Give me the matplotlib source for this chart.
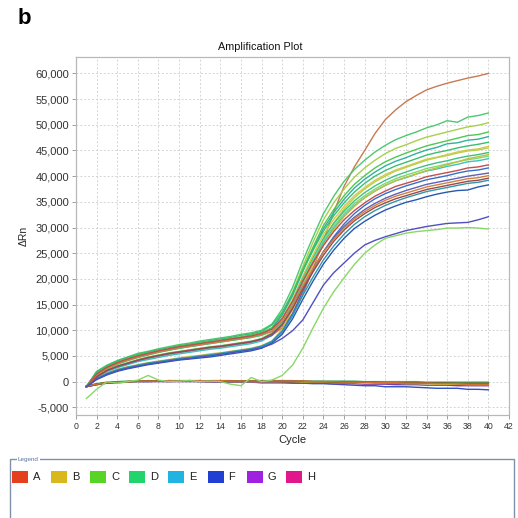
import matplotlib
matplotlib.use("Agg")
import matplotlib.pyplot as plt
import numpy as np
from matplotlib.patches import Rectangle
from matplotlib.ticker import FuncFormatter, MultipleLocator

plt.rcParams['font.family'] = ['Liberation Sans', 'DejaVu Sans']

cycles = list(range(1, 41))

# delta Rn per cycle, in thousands
amp_curves = [
    ('#c87a52', [-1.0, 1.0, 2.2, 3.0, 3.6, 4.2, 4.7, 5.1, 5.5, 5.8, 6.1, 6.4, 6.7, 6.9, 7.2, 7.5, 7.8, 8.3,
                 9.0, 10.5, 13.2, 17.0, 22.0, 27.5, 33.0, 38.0, 41.8, 45.0, 48.3, 51.0, 52.9, 54.5, 55.7, 56.8, 57.5, 58.1, 58.6, 59.1, 59.5, 60.0]),
    ('#4cc870', [-1.0, 2.0, 3.2, 4.1, 4.8, 5.5, 5.9, 6.4, 6.8, 7.2, 7.5, 7.9, 8.2, 8.5, 8.8, 9.2, 9.5, 10.0,
                 11.2, 14.1, 18.3, 23.5, 28.2, 32.7, 36.1, 39.0, 41.3, 43.1, 44.7, 46.0, 47.1, 47.9, 48.6, 49.4, 50.0, 50.8, 50.5, 51.5, 51.8, 52.3]),
    ('#a8d048', [-1.0, 1.2, 2.5, 3.4, 4.1, 4.7, 5.2, 5.7, 6.1, 6.5, 6.8, 7.1, 7.4, 7.7, 8.0, 8.3, 8.6, 9.1,
                 10.4, 13.2, 17.4, 22.4, 27.2, 31.5, 34.8, 37.5, 39.8, 41.6, 43.1, 44.4, 45.4, 46.1, 46.9, 47.6, 48.1, 48.6, 49.1, 49.6, 49.9, 50.4]),
    ('#50c850', [-0.9, 1.7, 2.9, 3.8, 4.5, 5.1, 5.6, 6.0, 6.4, 6.8, 7.1, 7.5, 7.8, 8.1, 8.4, 8.7, 9.1, 9.6,
                 10.5, 13.1, 17.0, 21.9, 26.2, 30.4, 33.5, 36.2, 38.4, 40.1, 41.6, 42.8, 43.7, 44.5, 45.2, 45.9, 46.4, 46.9, 47.4, 47.9, 48.1, 48.6]),
    ('#30b0a0', [-1.0, 1.4, 2.7, 3.5, 4.2, 4.8, 5.3, 5.8, 6.2, 6.5, 6.9, 7.2, 7.5, 7.8, 8.1, 8.4, 8.7, 9.2,
                 10.3, 12.9, 16.7, 21.5, 25.8, 29.8, 32.9, 35.5, 37.7, 39.4, 40.8, 42.0, 42.9, 43.6, 44.4, 45.1, 45.6, 46.3, 46.5, 47.0, 47.2, 47.7]),
    ('#d8c848', [-1.0, 1.0, 2.2, 3.0, 3.6, 4.2, 4.7, 5.1, 5.5, 5.8, 6.1, 6.4, 6.7, 6.9, 7.2, 7.5, 7.8, 8.3,
                 9.6, 12.4, 16.0, 20.6, 24.7, 28.6, 31.6, 34.1, 36.2, 37.8, 39.2, 40.3, 41.2, 41.9, 42.6, 43.3, 43.7, 44.2, 44.7, 45.1, 45.3, 45.8]),
    ('#b8d050', [-1.0, 0.9, 2.0, 2.8, 3.4, 4.0, 4.5, 4.9, 5.3, 5.6, 5.9, 6.2, 6.5, 6.7, 7.0, 7.3, 7.6, 8.1,
                 9.3, 11.5, 14.8, 19.2, 23.6, 27.6, 30.9, 33.6, 35.8, 37.5, 38.9, 40.0, 41.0, 41.7, 42.4, 43.1, 43.6, 44.0, 44.5, 44.9, 45.1, 45.5]),
    ('#40c080', [-1.0, 1.2, 2.5, 3.4, 4.1, 4.7, 5.2, 5.7, 6.1, 6.5, 6.8, 7.1, 7.4, 7.7, 8.0, 8.3, 8.6, 9.0,
                 9.8, 12.0, 15.6, 20.1, 24.1, 27.9, 30.8, 33.2, 35.2, 36.8, 38.1, 39.2, 40.1, 40.8, 41.5, 42.1, 42.6, 43.0, 43.5, 43.9, 44.2, 44.6]),
    ('#80d870', [-1.0, 1.1, 2.3, 3.1, 3.7, 4.3, 4.8, 5.2, 5.6, 5.9, 6.2, 6.5, 6.8, 7.0, 7.3, 7.6, 7.9, 8.4,
                 9.4, 11.8, 15.4, 19.8, 23.7, 27.4, 30.3, 32.7, 34.7, 36.2, 37.5, 38.6, 39.5, 40.2, 40.8, 41.5, 41.9, 42.4, 42.8, 43.2, 43.5, 43.9]),
    ('#40c0c0', [-1.0, 0.8, 2.0, 2.7, 3.3, 3.9, 4.3, 4.7, 5.1, 5.4, 5.7, 6.0, 6.3, 6.5, 6.8, 7.1, 7.4, 7.9,
                 9.0, 11.4, 14.9, 19.3, 23.3, 27.0, 29.9, 32.3, 34.3, 35.8, 37.1, 38.2, 39.1, 39.7, 40.4, 41.0, 41.4, 41.9, 42.3, 42.8, 43.0, 43.4]),
    ('#38c070', [-1.0, 1.9, 3.1, 4.0, 4.7, 5.3, 5.8, 6.2, 6.6, 7.0, 7.3, 7.7, 8.0, 8.3, 8.6, 9.0, 9.3, 9.8,
                 11.0, 13.5, 17.2, 21.6, 25.6, 29.3, 32.3, 34.8, 36.9, 38.6, 40.0, 41.1, 42.0, 42.7, 43.4, 44.1, 44.6, 45.0, 45.5, 45.9, 46.2, 46.6]),
    ('#c0c040', [-1.0, 0.6, 1.7, 2.4, 2.9, 3.3, 3.7, 4.0, 4.3, 4.6, 4.9, 5.1, 5.4, 5.6, 5.9, 6.2, 6.5, 7.0,
                 7.9, 10.2, 14.0, 18.6, 22.8, 26.6, 29.6, 32.1, 34.1, 35.8, 37.1, 38.2, 39.1, 39.8, 40.4, 41.1, 41.6, 42.2, 42.8, 43.4, 43.8, 44.2]),
    ('#3870c8', [-1.0, 0.5, 1.5, 2.2, 2.7, 3.1, 3.5, 3.8, 4.1, 4.4, 4.6, 4.9, 5.1, 5.4, 5.7, 6.0, 6.3, 6.8,
                 7.8, 9.8, 13.2, 17.6, 21.6, 25.3, 28.2, 30.7, 32.7, 34.3, 35.6, 36.6, 37.4, 38.1, 38.7, 39.3, 39.7, 40.1, 40.6, 41.0, 41.2, 41.6]),
    ('#3098a8', [-1.0, 0.6, 1.6, 2.3, 2.8, 3.2, 3.6, 3.9, 4.2, 4.5, 4.7, 5.0, 5.2, 5.5, 5.8, 6.1, 6.4, 6.9,
                 7.8, 9.6, 12.8, 16.8, 20.4, 23.7, 26.4, 28.7, 30.6, 32.1, 33.3, 34.3, 35.1, 35.8, 36.4, 37.0, 37.4, 37.8, 38.2, 38.6, 38.8, 39.2]),
    ('#2858b0', [-1.0, 0.4, 1.3, 2.0, 2.5, 2.9, 3.3, 3.6, 3.9, 4.2, 4.4, 4.6, 4.8, 5.1, 5.4, 5.7, 6.0, 6.5,
                 7.5, 9.2, 12.2, 16.0, 19.6, 22.9, 25.6, 27.9, 29.8, 31.2, 32.4, 33.4, 34.2, 34.9, 35.4, 36.0, 36.5, 36.9, 37.2, 37.3, 37.9, 38.3]),
    ('#6060b8', [-1.0, 0.9, 2.1, 2.9, 3.5, 4.1, 4.6, 5.0, 5.4, 5.7, 6.0, 6.3, 6.6, 6.8, 7.1, 7.4, 7.7, 8.2,
                 9.0, 11.0, 14.3, 18.4, 22.0, 25.3, 28.0, 30.2, 32.0, 33.5, 34.7, 35.7, 36.5, 37.2, 37.8, 38.4, 38.8, 39.2, 39.6, 40.0, 40.3, 40.6]),
    ('#a04848', [-1.0, 1.0, 2.2, 3.0, 3.6, 4.2, 4.7, 5.1, 5.5, 5.8, 6.1, 6.4, 6.7, 6.9, 7.2, 7.5, 7.8, 8.3,
                 9.3, 11.1, 14.2, 18.0, 21.4, 24.6, 27.3, 29.5, 31.3, 32.7, 33.9, 34.8, 35.6, 36.2, 36.8, 37.4, 37.8, 38.2, 38.6, 39.0, 39.2, 39.6]),
    ('#d08040', [-1.0, 1.3, 2.6, 3.5, 4.2, 4.8, 5.3, 5.8, 6.2, 6.6, 6.9, 7.2, 7.5, 7.8, 8.1, 8.4, 8.7, 9.2,
                 9.8, 11.7, 14.8, 18.6, 22.0, 25.2, 27.7, 29.9, 31.7, 33.1, 34.3, 35.3, 36.1, 36.7, 37.3, 37.9, 38.3, 38.7, 39.1, 39.5, 39.7, 40.1]),
    ('#c05050', [-1.0, 1.5, 2.8, 3.7, 4.4, 5.0, 5.5, 6.0, 6.4, 6.8, 7.1, 7.4, 7.7, 8.0, 8.3, 8.6, 8.9, 9.4,
                 10.2, 12.3, 15.6, 19.6, 23.2, 26.5, 29.2, 31.5, 33.3, 34.8, 36.1, 37.1, 38.0, 38.6, 39.2, 39.9, 40.3, 40.7, 41.1, 41.6, 41.8, 42.2]),
    ('#5050c0', [-1.0, 0.5, 1.4, 2.1, 2.6, 3.0, 3.4, 3.7, 4.0, 4.3, 4.5, 4.8, 5.0, 5.3, 5.6, 5.9, 6.2, 6.6,
                 7.3, 8.4, 9.9, 12.0, 15.4, 18.8, 21.2, 23.1, 25.0, 26.6, 27.5, 28.2, 28.8, 29.4, 29.8, 30.2, 30.5, 30.8, 30.9, 31.0, 31.5, 32.1]),
    ('#88d868', [-3.3, -1.5, 0.0, -0.3, 0.0, 0.3, 1.2, 0.3, 0.0, 0.1, 0.2, 0.0, 0.1, 0.0, -0.5, -0.8, 0.8, 0.0,
                 0.3, 1.2, 3.2, 6.5, 10.5, 14.3, 17.5, 20.2, 22.8, 25.0, 26.6, 27.9, 28.4, 28.9, 29.2, 29.4, 29.6, 29.9, 29.9, 30.0, 29.9, 29.7]),
]

# no-template controls, thousands
ntc_curves = [
    ('#3050c0', [-1.0, -0.6, -0.3, -0.2, -0.1, 0.0, 0.0, 0.1, 0.0, 0.1, 0.1, 0.0, 0.0, 0.0, -0.1, -0.1, -0.1, -0.2, -0.2, -0.2,
                 -0.3, -0.3, -0.4, -0.4, -0.5, -0.6, -0.7, -0.8, -0.8, -1.0, -1.0, -1.0, -1.1, -1.2, -1.3, -1.3, -1.3, -1.5, -1.5, -1.6]),
    ('#8040a0', [-1.0, -0.6, -0.3, -0.2, -0.1, 0.0, 0.0, 0.0, 0.0, 0.0, 0.0, 0.0, -0.1, -0.1, -0.1, -0.1, -0.1, -0.2, -0.2, -0.2,
                 -0.2, -0.3, -0.3, -0.3, -0.4, -0.4, -0.4, -0.5, -0.5, -0.5, -0.6, -0.6, -0.6, -0.7, -0.7, -0.7, -0.8, -0.8, -0.8, -0.8]),
    ('#c8c030', [-0.9, -0.5, -0.2, -0.1, 0.0, 0.0, 0.1, 0.1, 0.1, 0.1, 0.1, 0.1, 0.0, 0.1, 0.0, 0.0, 0.0, 0.0, 0.0, 0.0,
                 0.0, -0.1, -0.1, -0.1, -0.2, -0.2, -0.2, -0.3, -0.3, -0.3, -0.3, -0.4, -0.4, -0.4, -0.5, -0.5, -0.5, -0.6, -0.6, -0.6]),
    ('#40b060', [-0.8, -0.4, -0.1, 0.0, 0.1, 0.1, 0.2, 0.1, 0.2, 0.2, 0.2, 0.1, 0.2, 0.2, 0.2, 0.1, 0.2, 0.2, 0.2, 0.2,
                 0.2, 0.1, 0.1, 0.1, 0.1, 0.1, 0.1, 0.0, 0.0, 0.0, 0.0, 0.0, 0.0, -0.1, -0.1, -0.1, -0.1, -0.1, -0.1, -0.1]),
    ('#b04040', [-1.0, -0.5, -0.2, -0.1, 0.0, 0.1, 0.1, 0.1, 0.1, 0.1, 0.2, 0.1, 0.1, 0.1, 0.1, 0.1, 0.1, 0.1, 0.1, 0.1,
                 0.1, 0.1, 0.0, 0.0, 0.0, 0.0, -0.1, -0.1, -0.1, -0.2, -0.2, -0.2, -0.2, -0.3, -0.3, -0.3, -0.4, -0.4, -0.4, -0.4]),
    ('#606020', [-0.9, -0.5, -0.2, -0.1, 0.0, 0.1, 0.1, 0.1, 0.1, 0.1, 0.1, 0.2, 0.1, 0.1, 0.1, 0.1, 0.1, 0.1, 0.1, 0.0,
                 0.0, 0.0, 0.0, 0.0, -0.1, -0.1, -0.1, -0.1, -0.2, -0.2, -0.2, -0.2, -0.2, -0.3, -0.3, -0.3, -0.3, -0.3, -0.3, -0.3]),
    ('#d07030', [-0.9, -0.5, -0.2, -0.1, 0.0, 0.1, 0.1, 0.1, 0.2, 0.1, 0.2, 0.2, 0.1, 0.2, 0.1, 0.1, 0.1, 0.1, 0.1, 0.1,
                 0.1, 0.1, 0.0, 0.0, 0.0, -0.1, -0.1, -0.1, -0.2, -0.2, -0.2, -0.3, -0.3, -0.3, -0.4, -0.4, -0.4, -0.5, -0.5, -0.5]),
]

legend_names = ['A', 'B', 'C', 'D', 'E', 'F', 'G', 'H']
legend_colors = ['#e4401e', '#d8b81c', '#58d424', '#22d46c', '#22b4e0', '#2040d4', '#a022e0', '#e0188c']


def main():
    fig = plt.figure(figsize=(5.18, 5.18), dpi=100)
    W = H = 518.0
    ax = fig.add_axes([76 / W, 1 - 415 / H, (509 - 76) / W, (415 - 57) / H])

    for col, vals in ntc_curves:
        ax.plot(cycles, np.array(vals) * 1000, color=col, lw=1.0)
    for col, vals in amp_curves:
        ax.plot(cycles, np.array(vals) * 1000, color=col, lw=1.0)

    ax.set_xlim(0, 42)
    ax.set_ylim(-6500, 63200)
    ax.xaxis.set_major_locator(MultipleLocator(2))
    ax.yaxis.set_major_locator(MultipleLocator(5000))
    ax.yaxis.set_major_formatter(FuncFormatter(lambda v, p: f'{int(v):,}'))
    ax.grid(True, color='#d4d4d4', ls=(0, (2, 2)), lw=0.7)
    ax.set_axisbelow(True)
    for s in ax.spines.values():
        s.set_color('#b8b8b8')
        s.set_linewidth(0.9)
    ax.tick_params(length=3, width=0.6, color='#909090', labelcolor='#333333', pad=2)
    ax.tick_params(axis='y', labelsize=8)
    ax.tick_params(axis='x', labelsize=6.3)

    ax.set_xlabel('Cycle', fontsize=8, color='#222222', labelpad=3)
    ax.set_ylabel('ΔRn', fontsize=7.5, color='#222222', labelpad=5)
    fig.text(260 / W, 1 - 47 / H, 'Amplification Plot', fontsize=7.8, ha='center', va='center', color='#111111')
    fig.text(18 / W, 1 - 18 / H, 'b', fontsize=16, fontweight='bold', ha='left', va='center')

    # legend panel
    fig.patches.append(Rectangle((10 / W, -0.02), 504 / W, (518 - 459) / H + 0.02,
                                 transform=fig.transFigure, fill=False, ec='#8090a8', lw=1.0))
    fig.text(18 / W, 1 - 459 / H, 'Legend', fontsize=4.5, color='#5874a0', ha='left', va='center',
             bbox=dict(fc='white', ec='none', pad=0.6))
    for i, (name, col) in enumerate(zip(legend_names, legend_colors)):
        x0 = 11.5 + i * 39.2
        fig.patches.append(Rectangle((x0 / W, 1 - 483 / H), 16 / W, 12.5 / H,
                                     transform=fig.transFigure, fc=col, ec='none'))
        fig.text((x0 + 21) / W, 1 - 477 / H, name, fontsize=8, ha='left', va='center', color='#222222')

    fig.savefig('out.png', dpi=100, facecolor='white')


if __name__ == '__main__':
    main()
